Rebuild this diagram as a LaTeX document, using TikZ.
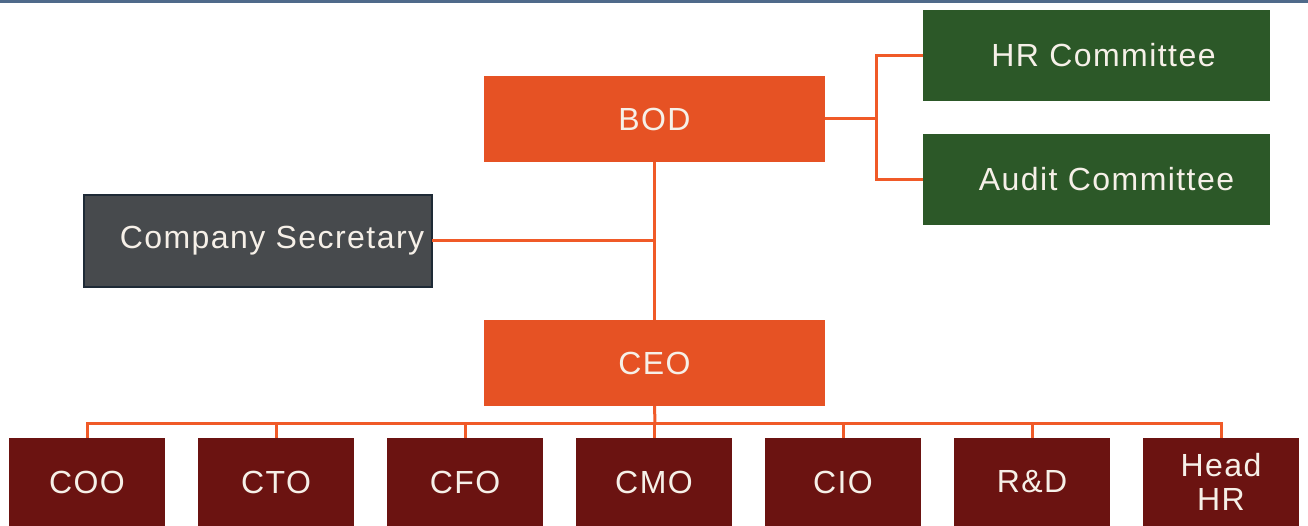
\documentclass[tikz,border=0pt]{standalone}
\usepackage{fontspec}
\setmainfont[LetterSpace=4.5]{Liberation Sans}
\definecolor{bodorange}{HTML}{E65224}
\definecolor{linkorange}{HTML}{F05A28}
\definecolor{comgreen}{HTML}{2C5828}
\definecolor{execred}{HTML}{6B1311}
\definecolor{secgray}{HTML}{474A4D}
\definecolor{secborder}{HTML}{1E2A36}
\definecolor{topblue}{HTML}{4F6A8A}
\definecolor{txt}{HTML}{F6F0E8}
\begin{document}
\begin{tikzpicture}[x=1pt,y=-1pt,
  box/.style={draw=none,anchor=north west,inner sep=0pt,outer sep=0pt,
    text=txt,font=\fontsize{32}{38}\selectfont,align=center},
  orangebox/.style={box,fill=bodorange,minimum width=341pt,minimum height=86pt},
  greenbox/.style={box,fill=comgreen,minimum width=347pt,minimum height=91pt},
  execbox/.style={box,fill=execred,minimum width=156pt,minimum height=88pt},
  link/.style={draw=linkorange,line width=3pt}]
\useasboundingbox (0,0) rectangle (1308,526);
\fill[white] (0,0) rectangle (1308,526);
\draw[topblue,line width=3.5pt] (0,1.5) -- (1308,1.5);

\node[orangebox] (bod) at (484,76) {BOD};
\node[orangebox] (ceo) at (484,320) {CEO};
\node[greenbox] (hr) at (923,10) {\hspace*{14pt}HR Committee};
\node[greenbox] (audit) at (923,134) {\hspace*{20pt}Audit Committee};
\node[box,fill=secgray,draw=secborder,line width=2.5pt,minimum width=348pt,minimum height=92pt] (sec) at (84,195) {\hspace*{28pt}Company Secretary};

\foreach \n/\t [count=\i from 0] in {coo/COO,cto/CTO,cfo/CFO,cmo/CMO,cio/CIO,rd/R\&D} {
  \node[execbox] (\n) at (9+189*\i,438) {\t};
}
\node[execbox] (headhr) at (1143,438) {Head\\[-4pt]HR};

\coordinate (bodright) at (876,119);
\draw[link] (bod.east) -- (bodright);
\draw[link] (hr.west) -| (bodright) |- (audit.west);
\coordinate (jn) at (bod.south |- sec.east);
\draw[link] (bod.south) -- (ceo.north);
\draw[link] (sec.east) -- (jn);

\coordinate (bus) at (655,423);
\draw[link] (ceo.south) -- (bus);
\draw[link] (coo.north) |- (bus) -| (headhr.north);
\foreach \n in {cto,cfo,cmo,cio,rd} {
  \draw[link] (\n.north) -- (\n.north |- bus);
}
\end{tikzpicture}
\end{document}
